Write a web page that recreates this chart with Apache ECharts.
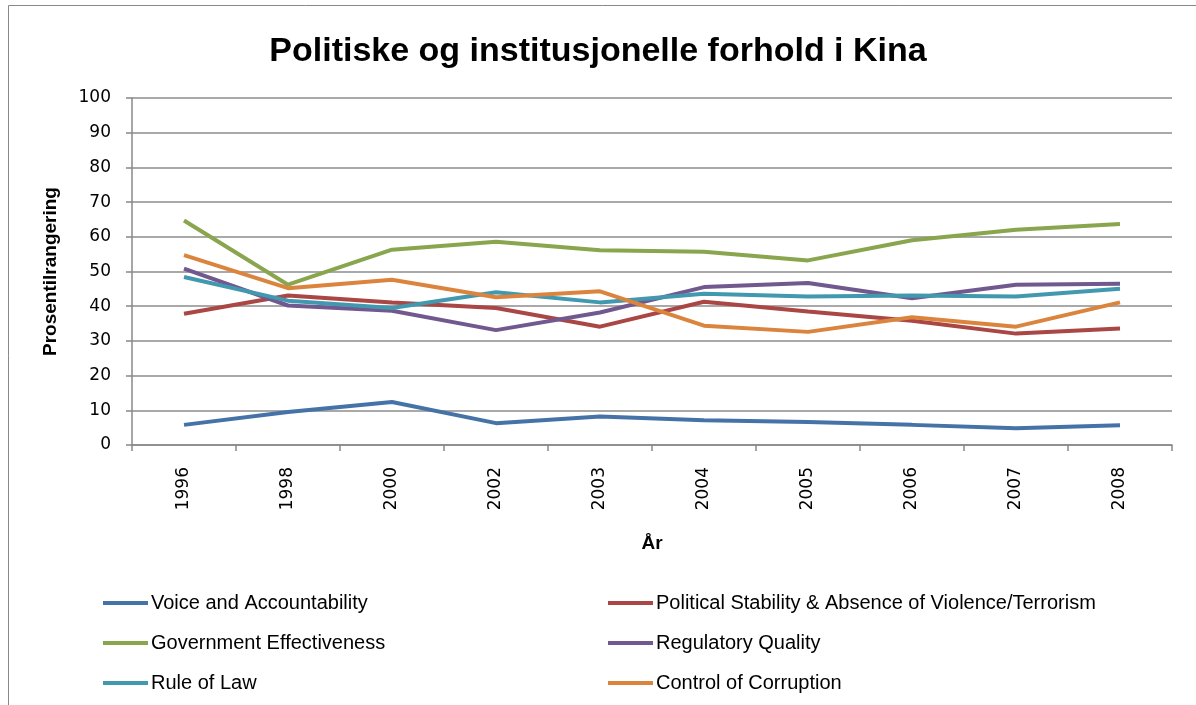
<!DOCTYPE html>
<html>
<head>
<meta charset="utf-8">
<script src="https://cdn.jsdelivr.net/npm/echarts@6/dist/echarts.min.js"></script>
<style>
  html, body { margin: 0; padding: 0; background: #fff; }
  #chart { width: 1196px; height: 705px; }
</style>
</head>
<body>
<div id="chart"></div>
<script>
  'use strict';

  var years = ['1996', '1998', '2000', '2002', '2003', '2004', '2005', '2006', '2007', '2008'];

  var voice = [5.8, 9.5, 12.4, 6.3, 8.2, 7.1, 6.6, 5.8, 4.8, 5.7];
  var stability = [37.8, 43.1, 41.1, 39.5, 34.1, 41.3, 38.5, 35.8, 32.1, 33.6];
  var govEff = [64.7, 46.2, 56.3, 58.6, 56.1, 55.7, 53.2, 59.0, 62.0, 63.7];
  var regQuality = [50.8, 40.2, 38.7, 33.1, 38.2, 45.5, 46.7, 42.3, 46.2, 46.5];
  var ruleOfLaw = [48.4, 41.6, 39.5, 44.0, 41.1, 43.6, 42.8, 43.1, 42.8, 45.0];
  var corruption = [54.7, 45.2, 47.6, 42.6, 44.3, 34.4, 32.6, 36.8, 34.1, 41.1];

  var font = '"Liberation Sans", sans-serif';

  var myChart = echarts.init(document.getElementById('chart'));

  function serie(name, data, color) {
    return {
      name: name,
      type: 'line',
      data: data,
      symbol: 'none',
      color: color,
      lineStyle: { width: 4, color: color }
    };
  }

  var legendBase = {
    orient: 'vertical',
    top: 588,
    itemGap: 20,
    itemWidth: 45,
    itemHeight: 4,
    icon: 'rect',
    textStyle: { fontFamily: font, fontSize: 20, color: '#000', padding: [0, 0, 0, -2] }
  };

  var option = {
    animation: false,
    title: {
      text: 'Politiske og institusjonelle forhold i Kina',
      left: 'center',
      top: 30,
      textStyle: { fontFamily: font, fontSize: 34, fontWeight: 'bold', color: '#000' }
    },
    // chart-area border (only top and left visible in the original)
    graphic: [{
      type: 'rect',
      shape: { x: 8.5, y: 5.5, width: 1300, height: 800 },
      style: { fill: 'none', stroke: '#888', lineWidth: 1 }
    }],
    legend: [
      Object.assign({}, legendBase, {
        left: 98,
        data: ['Voice and Accountability', 'Government Effectiveness', 'Rule of Law']
      }),
      Object.assign({}, legendBase, {
        left: 603,
        data: ['Political Stability & Absence of Violence/Terrorism', 'Regulatory Quality', 'Control of Corruption']
      })
    ],
    grid: {
      left: 132,
      right: 24,
      top: 98,
      bottom: 260
    },
    xAxis: {
      type: 'category',
      data: years,
      boundaryGap: true,
      name: 'År',
      nameLocation: 'middle',
      nameGap: 89,
      nameTextStyle: { fontFamily: font, fontSize: 19, fontWeight: 'bold', color: '#000' },
      axisLine: { lineStyle: { color: '#888', width: 1.5 } },
      axisTick: { show: true, length: 6, lineStyle: { color: '#888', width: 1.5 } },
      axisLabel: {
        rotate: 90,
        margin: 22,
        fontFamily: '"DejaVu Sans", sans-serif',
        fontSize: 17,
        color: '#000'
      }
    },
    yAxis: {
      type: 'value',
      min: 0,
      max: 100,
      interval: 10,
      name: 'Prosentilrangering',
      nameLocation: 'middle',
      nameGap: 72,
      nameTextStyle: { fontFamily: font, fontSize: 19, fontWeight: 'bold', color: '#000' },
      axisLine: { show: true, lineStyle: { color: '#888', width: 1.5 } },
      axisTick: { show: true, length: 6, lineStyle: { color: '#888', width: 1.5 } },
      axisLabel: { fontFamily: '"DejaVu Sans", sans-serif', fontSize: 17, color: '#000', margin: 21 },
      splitLine: { lineStyle: { color: '#8c8c8c', width: 1.5 } }
    },
    series: [
      serie('Voice and Accountability', voice, '#4572A7'),
      serie('Political Stability & Absence of Violence/Terrorism', stability, '#AA4643'),
      serie('Government Effectiveness', govEff, '#89A54E'),
      serie('Regulatory Quality', regQuality, '#71588F'),
      serie('Rule of Law', ruleOfLaw, '#4198AF'),
      serie('Control of Corruption', corruption, '#DB843D')
    ]
  };

  myChart.setOption(option);
</script>
</body>
</html>
